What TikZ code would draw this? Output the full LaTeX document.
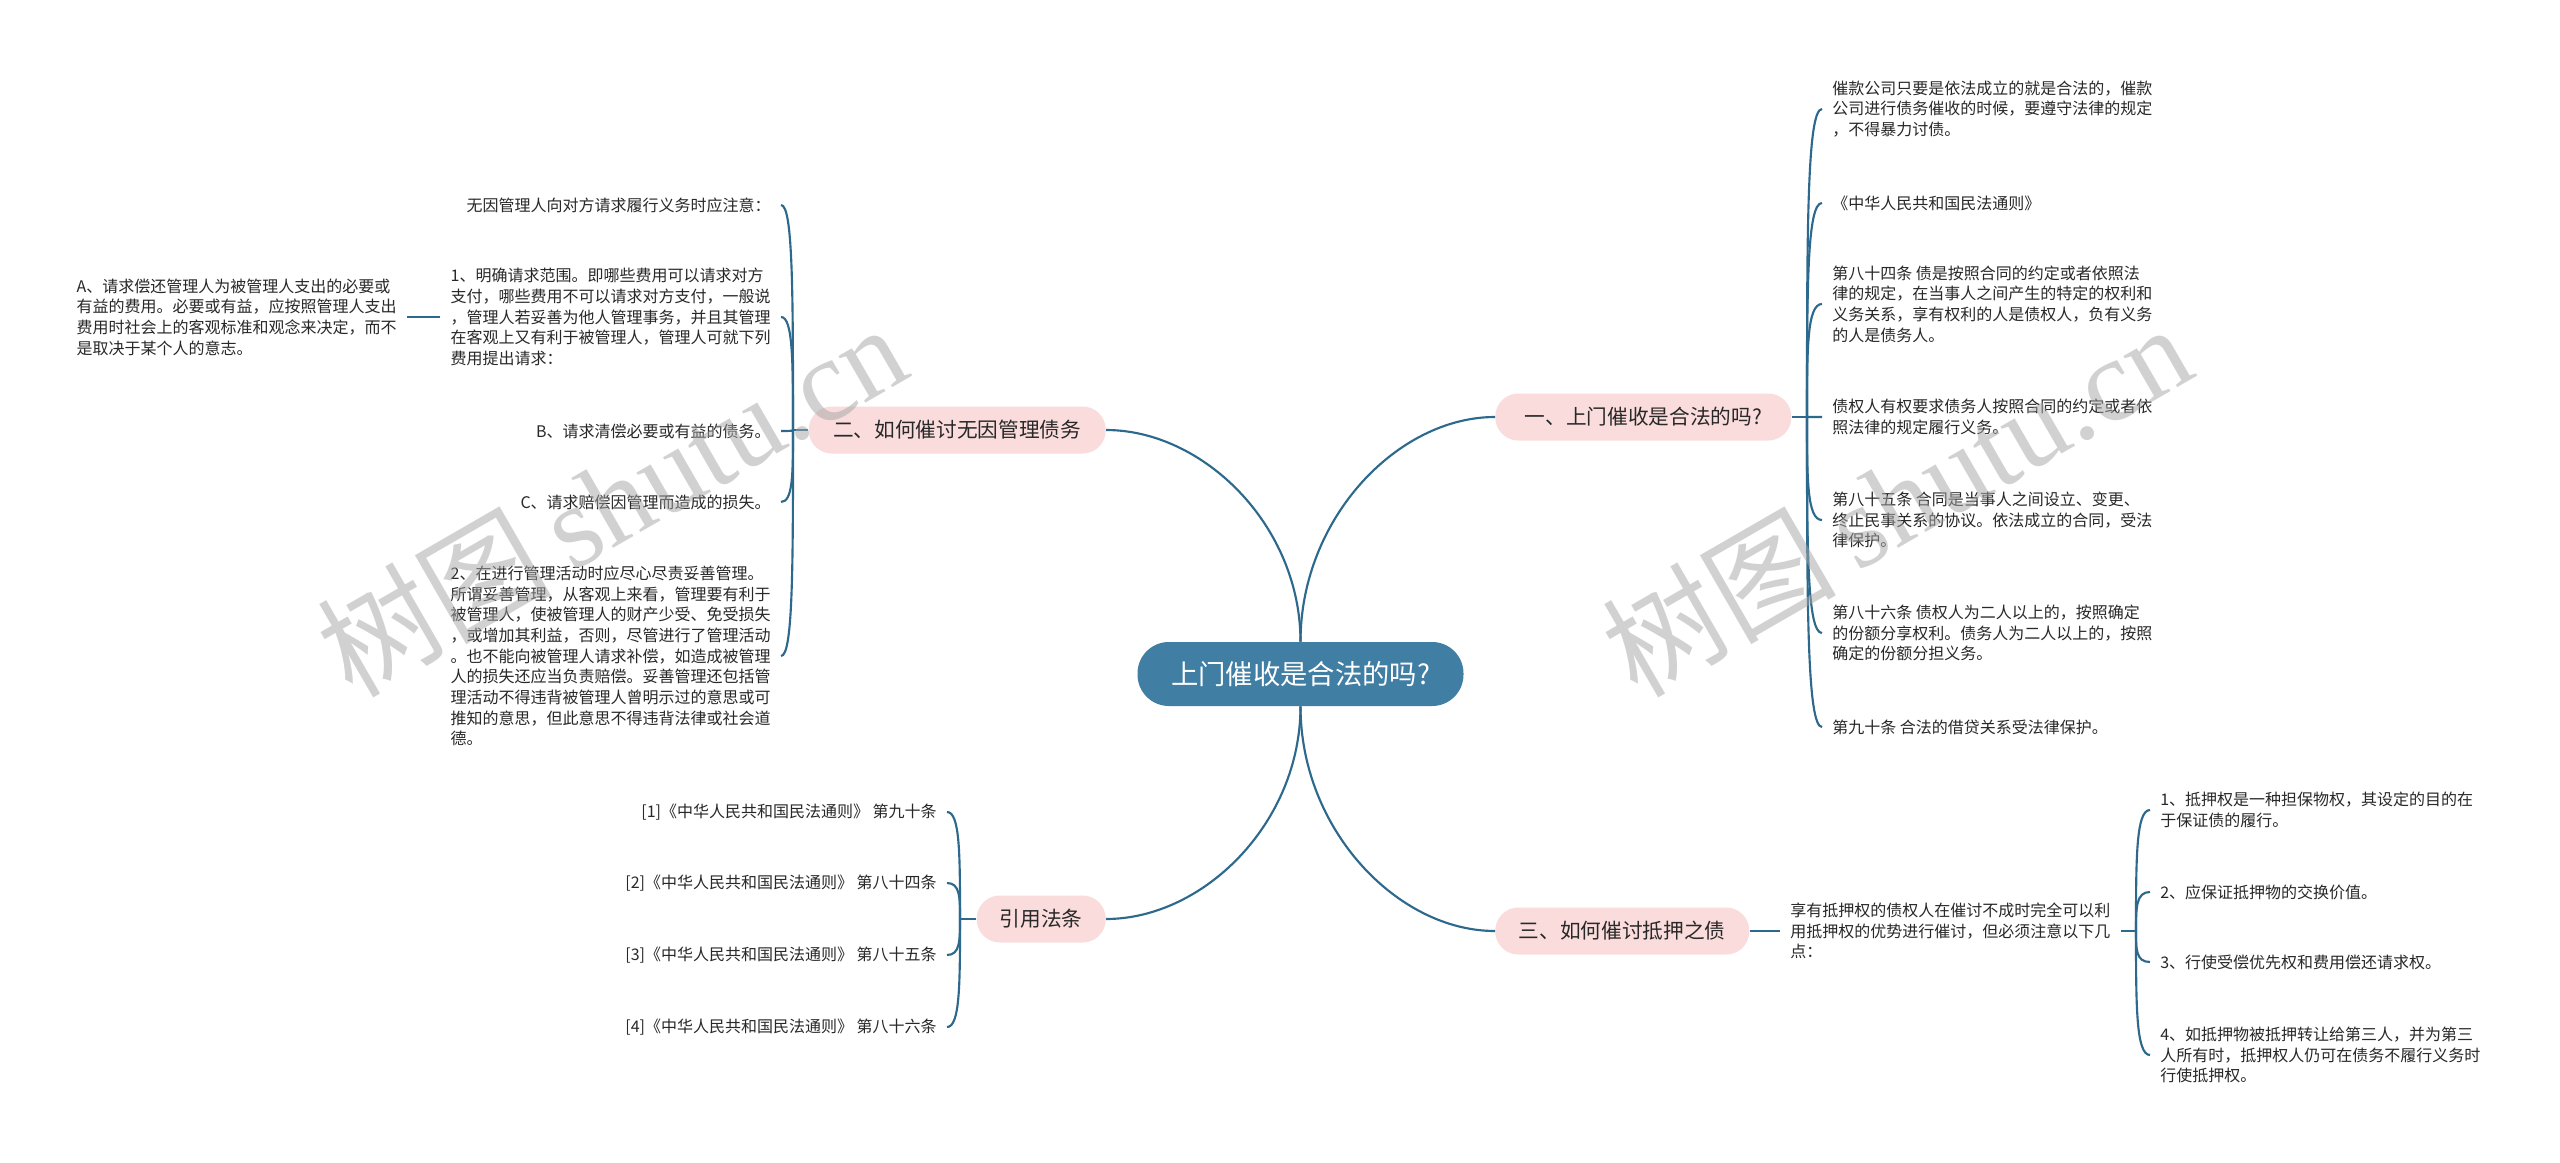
\documentclass[tikz,border=0pt]{standalone}
\usepackage{fontspec}
\setmainfont{Noto Sans CJK SC}
\newfontfamily\wmlatin{Liberation Serif}
\usetikzlibrary{calc}
\definecolor{linec}{RGB}{45,105,140}
\definecolor{rootc}{RGB}{64,126,164}
\definecolor{pinkc}{RGB}{250,220,220}
\definecolor{txtc}{RGB}{40,40,40}
\definecolor{wmc}{RGB}{165,165,165}
\newcommand{\mmcurve}[2]{\draw[conn] (#1) .. controls ($(#1)!0.55!(#1|-#2)$) and ($(#2)!0.5!(#1|-#2)$) .. (#2);}
\newcommand{\mmbrace}[2]{\draw[conn] (#1) .. controls ($(#1)!0.6!(#1|-#2)$) and (#1|-#2) .. (#2);}
\begin{document}
\begin{tikzpicture}[x=0.75pt,y=-0.75pt,
 conn/.style={draw=linec, line width=1.6pt},
 root/.style={fill=rootc, text=white, rounded corners=23.5pt, minimum width=244.5pt, minimum height=48pt, font=\fontsize{20.5}{24}\selectfont, inner sep=0pt},
 branch/.style={fill=pinkc, text=txtc, rounded corners=17.3pt, minimum height=35.25pt, font=\fontsize{15.5}{18}\selectfont, inner sep=0pt},
 leaf/.style={text=txtc, font=\fontsize{12}{15.5}\selectfont, inner xsep=7.5pt, inner ysep=1pt},
 leafL/.style={leaf, anchor=west, align=left},
 leafR/.style={leaf, anchor=east, align=left},
 leafRr/.style={leaf, anchor=east, align=right},
 wmark/.style={text=wmc, opacity=0.5, rotate=30, anchor=base west, font=\fontsize{88}{96}\selectfont, inner sep=0pt},
]
\fill[white] (0,0) rectangle (2560,1163);
\useasboundingbox (0,0) rectangle (2560,1163);

% root and branches
\node[root] (c) at (1300.5,674) {上门催收是合法的吗?};
\node[branch, anchor=west, minimum width=222pt] (b1) at (1495,417) {一、上门催收是合法的吗?};
\node[branch, anchor=east, minimum width=222.75pt] (b2) at (1106,430) {二、如何催讨无因管理债务};
\node[branch, anchor=east, minimum width=96.75pt] (b4) at (1106,919) {引用法条};
\node[branch, anchor=west, minimum width=190.5pt] (b3) at (1495,931) {三、如何催讨抵押之债};

\mmcurve{c.north}{b1.west}
\mmcurve{c.north}{b2.east}
\mmcurve{c.south}{b3.west}
\mmcurve{c.south}{b4.east}

% branch 1 leaves
\coordinate (j1) at (1807,417);
\node[leafL] (r1) at (1822,109) {催款公司只要是依法成立的就是合法的，催款\\公司进行债务催收的时候，要遵守法律的规定\\，不得暴力讨债。};
\node[leafL] (r2) at (1822,203) {《中华人民共和国民法通则》};
\node[leafL] (r3) at (1822,304) {第八十四条 债是按照合同的约定或者依照法\\律的规定，在当事人之间产生的特定的权利和\\义务关系，享有权利的人是债权人，负有义务\\的人是债务人。};
\node[leafL] (r4) at (1822,417) {债权人有权要求债务人按照合同的约定或者依\\照法律的规定履行义务。};
\node[leafL] (r5) at (1822,520) {第八十五条 合同是当事人之间设立、变更、\\终止民事关系的协议。依法成立的合同，受法\\律保护。};
\node[leafL] (r6) at (1822,633) {第八十六条 债权人为二人以上的，按照确定\\的份额分享权利。债务人为二人以上的，按照\\确定的份额分担义务。};
\node[leafL] (r7) at (1822,727) {第九十条 合法的借贷关系受法律保护。};
\draw[conn] (b1.east) -- (j1);
\foreach \n in {r1,r2,r3,r4,r5,r6,r7} {\mmbrace{j1}{\n.west}}

% branch 2 leaves
\coordinate (j2) at (793,430);
\node[leafRr] (l1) at (781,205) {无因管理人向对方请求履行义务时应注意：};
\node[leafR] (l2) at (781,317) {1、明确请求范围。即哪些费用可以请求对方\\支付，哪些费用不可以请求对方支付，一般说\\，管理人若妥善为他人管理事务，并且其管理\\在客观上又有利于被管理人，管理人可就下列\\费用提出请求：};
\node[leafRr] (l3) at (781,431) {B、请求清偿必要或有益的债务。};
\node[leafRr] (l4) at (781,502) {C、请求赔偿因管理而造成的损失。};
\node[leafR] (l5) at (781,656) {2、在进行管理活动时应尽心尽责妥善管理。\\所谓妥善管理，从客观上来看，管理要有利于\\被管理人，使被管理人的财产少受、免受损失\\，或增加其利益，否则，尽管进行了管理活动\\。也不能向被管理人请求补偿，如造成被管理\\人的损失还应当负责赔偿。妥善管理还包括管\\理活动不得违背被管理人曾明示过的意思或可\\推知的意思，但此意思不得违背法律或社会道\\德。};
\node[leafR] (la) at (407,317) {A、请求偿还管理人为被管理人支出的必要或\\有益的费用。必要或有益，应按照管理人支出\\费用时社会上的客观标准和观念来决定，而不\\是取决于某个人的意志。};
\draw[conn] (b2.west) -- (j2);
\foreach \n in {l1,l2,l3,l4,l5} {\mmbrace{j2}{\n.east}}
\draw[conn] (l2.west) -- (la.east |- l2.west);

% citations
\coordinate (j3) at (960,919);
\node[leafRr] (q1) at (947,812) {[1]《中华人民共和国民法通则》 第九十条};
\node[leafRr] (q2) at (947,883) {[2]《中华人民共和国民法通则》 第八十四条};
\node[leafRr] (q3) at (947,955) {[3]《中华人民共和国民法通则》 第八十五条};
\node[leafRr] (q4) at (947,1027) {[4]《中华人民共和国民法通则》 第八十六条};
\draw[conn] (b4.west) -- (j3);
\foreach \n in {q1,q2,q3,q4} {\mmbrace{j3}{\n.east}}

% branch 3
\node[leafL] (t0) at (1780,931) {享有抵押权的债权人在催讨不成时完全可以利\\用抵押权的优势进行催讨，但必须注意以下几\\点：};
\draw[conn] (b3.east) -- (t0.west);
\coordinate (j4) at (2136,931);
\draw[conn] (t0.east) -- (j4);
\node[leafL] (t1) at (2150,810) {1、抵押权是一种担保物权，其设定的目的在\\于保证债的履行。};
\node[leafL] (t2) at (2150,892) {2、应保证抵押物的交换价值。};
\node[leafL] (t3) at (2150,962) {3、行使受偿优先权和费用偿还请求权。};
\node[leafL] (t4) at (2150,1055) {4、如抵押物被抵押转让给第三人，并为第三\\人所有时，抵押权人仍可在债务不履行义务时\\行使抵押权。};
\foreach \n in {t1,t2,t3,t4} {\mmbrace{j4}{\n.west}}

% watermarks
\node[wmark] (wm1) at (352,700) {树图\,{\wmlatin shutu.cn}};
\node[wmark] (wm2) at (1637,700) {树图\,{\wmlatin shutu.cn}};
\end{tikzpicture}
\end{document}
